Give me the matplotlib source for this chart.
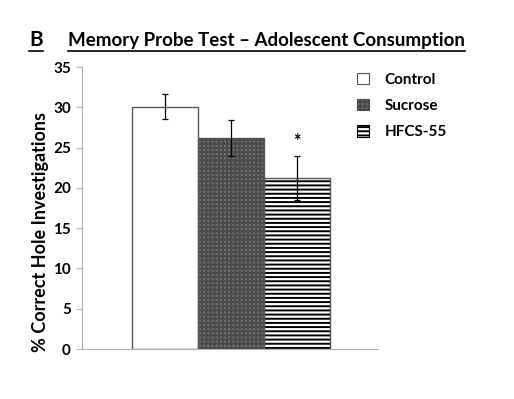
import matplotlib
matplotlib.use("Agg")
import matplotlib.pyplot as plt
from matplotlib.lines import Line2D

plt.rcParams['font.family'] = ['Lato', 'DejaVu Sans']
plt.rcParams['hatch.linewidth'] = 1.4

groups = ["Control", "Sucrose", "HFCS-55"]
means = [30.1, 26.2, 21.2]
sems = [1.5, 2.2, 2.7]
faces = ["white", "#6e6e6e", "white"]
hatches = [None, "++++", "----"]
hatch_cols = ["#555555", "#4a4a4a", "black"]
yticks = [0, 5, 10, 15, 20, 25, 30, 35]

fig = plt.figure(figsize=(5.14, 3.99), dpi=100)
ax = fig.add_axes([0.1595, 0.1253, 0.5755, 0.7067])

for i in range(3):
    ax.bar(i, means[i], width=1.0, color=faces[i], edgecolor=hatch_cols[i],
           hatch=hatches[i], linewidth=0.8, label=groups[i])
    ax.errorbar(i, means[i], yerr=sems[i], color="black", lw=0.9,
                capsize=2.5, capthick=0.9)
# outline the bars in grey over the hatch
for i in range(3):
    ax.bar(i, means[i], width=1.0, fill=False, edgecolor="#555555", linewidth=0.9)

ax.text(2, means[2] + sems[2] + 1.9, "*", ha="center", va="center",
        fontsize=13, fontweight="bold")

ax.set_xlim(-1.253, 3.23)
ax.set_ylim(0, 35)
ax.set_yticks(yticks)
ax.set_xticks([])
for s in ["top", "right"]:
    ax.spines[s].set_visible(False)
ax.spines["left"].set_color("#b0b0b0")
ax.spines["bottom"].set_color("#b0b0b0")
ax.tick_params(axis="y", length=4, color="#b0b0b0", labelsize=11, pad=4)
for t in ax.get_yticklabels():
    t.set_fontweight("bold")
ax.set_ylabel("% Correct Hole Investigations", fontsize=13, fontweight="bold")
ax.yaxis.set_label_coords(-0.112, 0.415)

leg = ax.legend(loc="upper left", bbox_to_anchor=(0.929, 0.98), frameon=False,
                prop={"weight": "bold", "size": 11}, handlelength=0.78,
                handleheight=0.78, labelspacing=0.8, handletextpad=1.05,
                borderpad=0, borderaxespad=0)

t1 = fig.text(29 / 514, 1 - 46 / 399, "B", fontsize=15, fontweight="bold",
              ha="left", va="baseline")
t2 = fig.text(68 / 514, 1 - 46 / 399, "Memory Probe Test \u2013 Adolescent Consumption",
              fontsize=13.5, fontweight="bold", ha="left", va="baseline")
fig.canvas.draw()
r = fig.canvas.get_renderer()
for t in (t1, t2):
    bb = t.get_window_extent(r).transformed(fig.transFigure.inverted())
    yl = 1 - 50.5 / 399
    fig.add_artist(Line2D([bb.x0, bb.x1], [yl, yl], color="black", lw=1.2,
                          transform=fig.transFigure))

fig.savefig("out.png", dpi=100)
